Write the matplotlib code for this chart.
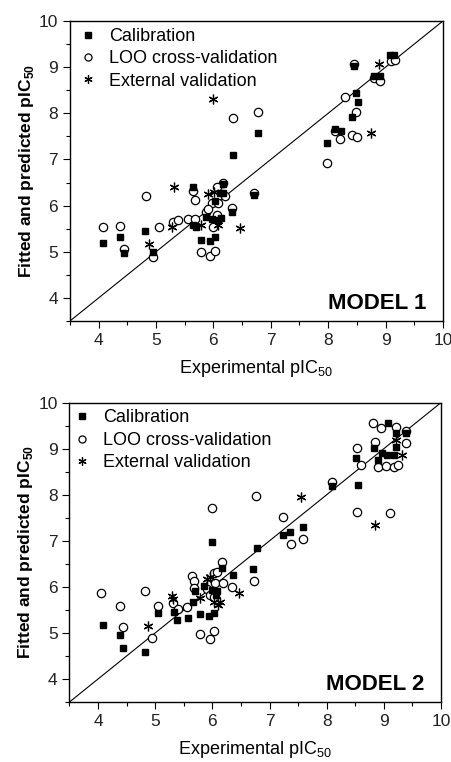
import matplotlib
matplotlib.use("Agg")
import matplotlib.pyplot as plt
import numpy as np
from matplotlib.ticker import MultipleLocator

plt.rcParams['font.family'] = ['Liberation Sans', 'DejaVu Sans']
plt.rcParams['mathtext.fontset'] = 'custom'
plt.rcParams['mathtext.rm'] = 'Liberation Sans'
plt.rcParams['mathtext.bf'] = 'Liberation Sans:bold'

# ---- MODEL 1 data (experimental, fitted/predicted) ----
m1_cal_x = [9.07, 9.14, 8.45, 8.80, 8.90, 8.48, 8.52, 8.41, 8.12, 8.22, 7.98, 6.78, 6.35,
            6.70, 4.08, 4.38, 4.45, 4.81, 4.94, 5.65, 5.65, 5.70, 5.78, 5.94, 6.03,
            6.17, 6.11, 6.17, 6.03, 5.88, 5.97, 6.08, 6.13, 6.33]
m1_cal_y = [9.26, 9.26, 9.03, 8.81, 8.81, 8.45, 8.25, 7.91, 7.66, 7.62, 7.35, 7.57, 7.10,
            6.23, 5.20, 5.33, 4.97, 5.45, 5.00, 6.41, 5.58, 5.54, 5.25, 5.23, 5.33,
            6.46, 6.27, 6.27, 6.09, 5.76, 5.72, 5.69, 5.74, 5.87]

m1_loo_x = [6.35, 6.78, 9.10, 9.17, 8.45, 8.80, 8.90, 8.29, 8.49, 8.12, 8.20, 8.41, 8.51,
            7.98, 6.70, 4.07, 4.37, 4.45, 4.82, 4.95, 5.05, 5.30, 5.39, 5.64, 5.68,
            5.56, 5.68, 5.78, 5.94, 6.03, 6.00, 6.17, 6.06, 6.21, 5.97, 6.08, 5.88,
            6.06, 5.91, 6.33]
m1_loo_y = [7.89, 8.03, 9.13, 9.15, 9.07, 8.76, 8.70, 8.36, 8.03, 7.62, 7.44, 7.53, 7.49,
            6.93, 6.27, 5.53, 5.55, 5.05, 6.21, 4.89, 5.53, 5.65, 5.69, 6.32, 6.12,
            5.70, 5.72, 4.99, 4.91, 5.02, 5.54, 6.50, 6.41, 6.21, 6.05, 6.05, 5.87,
            5.80, 5.93, 5.94]

m1_ext_x = [6.00, 8.89, 8.74, 4.88, 5.32, 5.28, 5.79, 6.08, 5.91, 6.01, 6.46]
m1_ext_y = [8.31, 9.07, 7.58, 5.17, 6.41, 5.54, 5.58, 5.58, 6.25, 6.30, 5.51]

# ---- MODEL 2 data ----
m2_cal_x = [6.00, 6.78, 9.08, 9.21, 8.83, 8.96, 9.05, 9.17, 9.22, 8.51, 8.90, 8.09, 8.54,
            7.59, 7.24, 7.36, 6.71, 4.08, 4.38, 4.44, 4.82, 5.04, 5.32, 5.38, 5.58,
            5.66, 5.70, 5.78, 5.94, 6.03, 6.16, 5.85, 5.99, 6.08, 6.07, 6.36, 9.39]
m2_cal_y = [6.98, 6.84, 9.55, 9.34, 9.01, 8.91, 8.86, 8.86, 9.04, 8.79, 8.76, 8.19, 8.21,
            7.29, 7.13, 7.18, 6.38, 5.17, 4.96, 4.67, 4.58, 5.43, 5.46, 5.28, 5.32,
            5.68, 5.90, 5.41, 5.37, 5.44, 6.40, 6.02, 5.93, 5.90, 5.82, 6.26, 9.35]

m2_loo_x = [6.00, 6.76, 8.81, 8.95, 9.21, 9.39, 8.85, 9.39, 8.53, 8.90, 9.04, 9.18, 9.25,
            8.60, 8.09, 8.53, 9.10, 7.24, 7.37, 7.58, 6.72, 4.06, 4.38, 4.44, 4.82,
            4.94, 5.05, 5.31, 5.39, 5.56, 5.64, 5.68, 5.67, 5.78, 5.95, 6.03, 6.02,
            6.08, 6.16, 5.96, 6.05, 6.19, 5.90, 5.96, 6.02, 6.34]
m2_loo_y = [7.71, 7.97, 9.55, 9.44, 9.48, 9.39, 9.15, 9.13, 9.01, 8.60, 8.63, 8.60, 8.65,
            8.65, 8.28, 7.62, 7.60, 7.52, 6.93, 7.03, 6.13, 5.86, 5.59, 5.12, 5.90,
            4.90, 5.59, 5.64, 5.51, 5.57, 6.24, 6.13, 5.97, 4.97, 4.86, 5.05, 6.30,
            6.33, 6.53, 6.06, 6.08, 6.08, 5.95, 5.82, 5.79, 6.00]

m2_ext_x = [9.21, 9.31, 7.55, 8.85, 4.88, 5.29, 5.31, 5.78, 5.90, 5.96, 6.02, 6.10, 6.13, 6.47]
m2_ext_y = [9.19, 8.86, 7.94, 7.34, 5.14, 5.80, 5.73, 5.75, 6.17, 6.22, 5.68, 5.61, 5.68, 5.86]

fig = plt.figure(figsize=(4.51, 7.62), dpi=100)
ax1 = fig.add_axes([0.155, 0.5787, 0.827, 0.3937])
ax2 = fig.add_axes([0.154, 0.0787, 0.824, 0.3930])

star = (6, 2, 0)
panels = [
    (ax1, m1_cal_x, m1_cal_y, m1_loo_x, m1_loo_y, m1_ext_x, m1_ext_y, 'MODEL 1', 0.015),
    (ax2, m2_cal_x, m2_cal_y, m2_loo_x, m2_loo_y, m2_ext_x, m2_ext_y, 'MODEL 2', 0.0),
]

for ax, cx, cy, lx, ly, ex, ey, name, lx_off in panels:
    ax.plot([3.5, 10], [3.5, 10], color='black', lw=0.8, zorder=1)
    ax.plot(lx, ly, 'o', ls='none', mfc='white', mec='black', mew=0.9, ms=6,
            label='LOO cross-validation', zorder=2)
    ax.plot(cx, cy, 's', ls='none', color='black', ms=5, label='Calibration', zorder=3)
    ax.plot(ex, ey, marker=star, ls='none', color='black', mew=0.9, ms=7,
            label='External validation', zorder=4)

    handles, labels = ax.get_legend_handles_labels()
    order = [1, 0, 2]
    ax.legend([handles[i] for i in order], [labels[i] for i in order],
              loc='upper left', frameon=False, fontsize=13, handlelength=0.8,
              handletextpad=0.75, labelspacing=0.3, borderaxespad=0.0,
              borderpad=0.3, markerscale=0.85, bbox_to_anchor=(lx_off, 0.995))

    ax.set_xlim(3.5, 10)
    ax.set_ylim(3.5, 10)
    ax.xaxis.set_major_locator(MultipleLocator(1))
    ax.xaxis.set_minor_locator(MultipleLocator(0.5))
    ax.yaxis.set_major_locator(MultipleLocator(1))
    ax.yaxis.set_minor_locator(MultipleLocator(0.5))
    ax.tick_params(which='both', direction='out', top=False, right=False,
                   labelsize=12.5, labelcolor='#222222')
    ax.tick_params(which='major', length=5, width=0.8)
    ax.tick_params(which='minor', length=3, width=0.8)
    for sp in ax.spines.values():
        sp.set_linewidth(1.0)

    ax.set_xlabel(r'Experimental pIC$_{\mathrm{50}}$', fontsize=13, labelpad=7)
    ax.set_ylabel(r'Fitted and predicted pIC$_{\mathbf{50}}$', fontsize=12.5,
                  fontweight='bold', labelpad=2)
    ax.text(0.955, 0.04, name, transform=ax.transAxes, ha='right', va='baseline',
            fontsize=16, fontweight='bold')

fig.savefig('out.png', dpi=100)
